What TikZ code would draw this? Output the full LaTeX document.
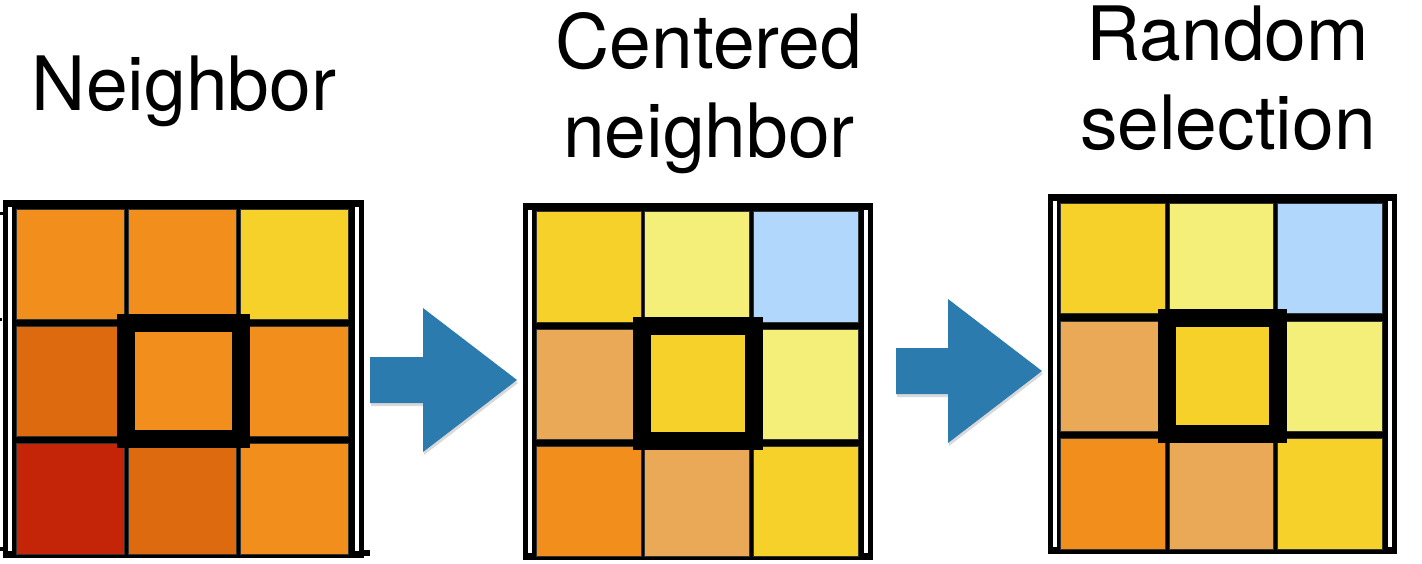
\documentclass[tikz,border=0pt]{standalone}
\usepackage{fontspec}
\setmainfont{TeX Gyre Heros}
\usetikzlibrary{shadows}

\definecolor{cOrange}{HTML}{F28F1C}
\definecolor{cDark}{HTML}{DD6A0F}
\definecolor{cRed}{HTML}{C42407}
\definecolor{cYellow}{HTML}{F6D12A}
\definecolor{cPale}{HTML}{F4EF78}
\definecolor{cBlue}{HTML}{B1D7FC}
\definecolor{cTan}{HTML}{E9A957}
\definecolor{arrowblue}{HTML}{2B7BAE}

\begin{document}
\begin{tikzpicture}[
  x=1pt, y=-1pt,
  cell/.style={draw=black!80, line width=1pt},
  centerbox/.style={draw=black, line width=18pt},
  heading/.style={font=\fontsize{75}{89}\selectfont, align=center, anchor=base},
  blockarrow/.style={fill=arrowblue, drop shadow={shadow xshift=1pt, shadow yshift=-3pt, opacity=0.3}}
]
  \useasboundingbox (0,0) rectangle (1422,564);

  % panel 1
  \begin{scope}[shift={(3,200)}, xscale=1.031, yscale=1.003]
    \fill (0,0) rectangle (350,357);
    \fill[white] (5,7) rectangle (9,350);
    \fill[white] (341,7) rectangle (345,350);
    \foreach \col [count=\k from 0] in {cOrange,cOrange,cYellow,cDark,cOrange,cOrange,cRed,cDark,cOrange} {
      \pgfmathtruncatemacro\i{mod(\k,3)}
      \pgfmathtruncatemacro\j{div(\k,3)}
      \draw[cell, fill=\col] (13+108.5*\i, 9+117*\j) rectangle ++(105,110);
    }
    \draw[centerbox] (119,123) rectangle (231,238);
  \end{scope}
  \fill (364,550) rectangle (370,556);
  \fill (0,212) rectangle (3,215);
  \fill (0,318) rectangle (2,321);
  \fill (0,547) rectangle (3,551);
  \node[heading] (t1) at (184,111) {Neighbor};

  % panel 2
  \begin{scope}[shift={(523,203)}]
    \fill (0,0) rectangle (350,357);
    \fill[white] (5,7) rectangle (9,350);
    \fill[white] (341,7) rectangle (345,350);
    \foreach \col [count=\k from 0] in {cYellow,cPale,cBlue,cTan,cYellow,cPale,cOrange,cTan,cYellow} {
      \pgfmathtruncatemacro\i{mod(\k,3)}
      \pgfmathtruncatemacro\j{div(\k,3)}
      \draw[cell, fill=\col] (13+108.5*\i, 9+117*\j) rectangle ++(105,110);
    }
    \draw[centerbox] (119,123) rectangle (231,238);
  \end{scope}
  \node[heading] (t2) at (709,158) {Centered\\neighbor};

  % panel 3
  \begin{scope}[shift={(1048,194)}, xscale=0.997, yscale=1.008]
    \fill (0,0) rectangle (350,357);
    \fill[white] (5,7) rectangle (9,350);
    \fill[white] (341,7) rectangle (345,350);
    \foreach \col [count=\k from 0] in {cYellow,cPale,cBlue,cTan,cYellow,cPale,cOrange,cTan,cYellow} {
      \pgfmathtruncatemacro\i{mod(\k,3)}
      \pgfmathtruncatemacro\j{div(\k,3)}
      \draw[cell, fill=\col] (13+108.5*\i, 9+117*\j) rectangle ++(105,110);
    }
    \draw[centerbox] (119,123) rectangle (231,238);
  \end{scope}
  \node[heading] (t3) at (1228,150) {Random\\selection};

  % arrows
  \begin{scope}[shift={(370,380)}]
    \fill[blockarrow] (0,-23) -- (53,-23) -- (53,-72) -- (147,0) -- (53,72) -- (53,23) -- (0,23) -- cycle;
  \end{scope}
  \begin{scope}[shift={(896,371)}]
    \fill[blockarrow] (0,-23) -- (52,-23) -- (52,-72) -- (146,0) -- (52,72) -- (52,23) -- (0,23) -- cycle;
  \end{scope}
\end{tikzpicture}
\end{document}
